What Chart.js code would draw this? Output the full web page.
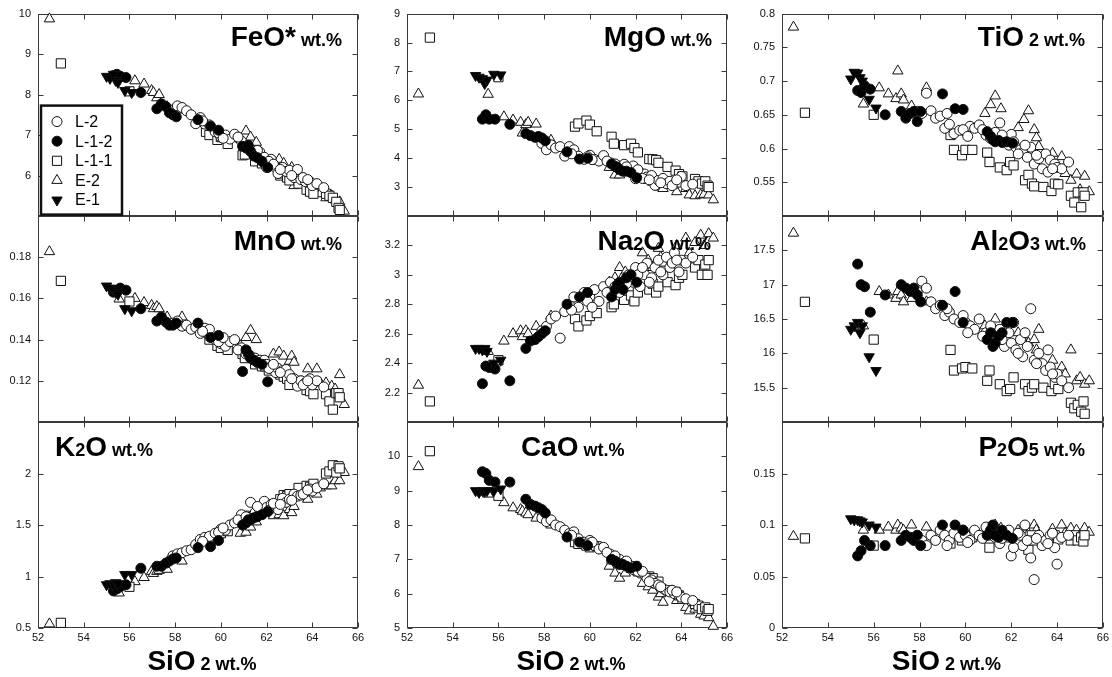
<!DOCTYPE html>
<html>
<head>
<meta charset="utf-8">
<script src="https://cdn.jsdelivr.net/npm/chart.js@4.4.0/dist/chart.umd.min.js"></script>
<style>
  html, body { margin: 0; padding: 0; background: #fff; }
  #wrap { position: relative; width: 1112px; height: 677px; overflow: hidden; }
  #wrap canvas { position: absolute; left: 0; top: 0; }
</style>
</head>
<body>
<div id="wrap"></div>
<script>
// ---------------- DATA ----------------
const SIO2_L2  = [57.9, 58.1, 58.3, 58.5, 58.7, 58.9, 59.1, 59.3, 59.5, 59.75, 60.0, 60.2, 60.4, 60.6, 60.9, 61.3, 61.5, 61.7, 61.9, 62.0, 62.2, 62.4, 62.5, 62.7, 62.85, 63.0, 63.2, 63.35, 63.5, 63.7, 63.9, 64.0, 64.2, 64.5,
                  59.2, 59.9, 60.1, 60.75, 61.1, 61.6, 62.1, 62.3, 62.6, 63.1, 63.6, 63.8];
const SIO2_L12 = [55.3, 55.45, 55.6, 55.85, 56.5, 57.2, 57.4, 57.6, 57.75, 57.9, 58.05, 59.0, 59.55, 59.9, 60.95, 61.1, 61.2, 61.3, 61.45, 61.6, 61.8, 62.05];
const SIO2_L11 = [53.0, 56.0, 59.35, 59.5, 59.85, 60.0, 60.3, 60.95, 61.05, 61.5, 61.8, 61.95, 62.1, 62.6, 62.75, 62.9, 63.0, 63.4, 63.75, 63.9, 64.05, 64.6, 64.75, 64.9, 65.05, 65.15, 65.2];
const SIO2_E2  = [52.5, 55.55, 56.24, 56.64, 56.97, 57.05, 57.2, 57.3, 57.65, 58.3, 60.85, 61.1, 61.3, 61.55, 62.3, 62.55, 62.75, 63.0, 63.1, 63.2, 63.8, 64.2, 64.35, 64.6, 64.85, 65.0, 65.2, 65.4];
const SIO2_E1  = [55.0, 55.15, 55.3, 55.4, 55.5, 55.8, 56.1];

const FEO = {
  L2:  [7.62, 7.72, 7.68, 7.6, 7.5, 7.28, 7.43, 7.27, 7.25, 7.08, 6.95, 7.0, 6.9, 7.02, 6.85, 6.6, 6.55, 6.58, 6.45, 6.2, 6.4, 6.2, 6.05, 6.2, 6.1, 6.13, 5.95, 6.15, 5.9, 5.85, 5.85, 5.75, 5.8, 5.7,
        7.35, 7.05, 6.92, 6.95, 6.7, 6.62, 6.35, 6.28, 6.15, 6.0, 5.95, 5.9],
  L12: [8.47, 8.5, 8.45, 8.42, 8.05, 7.65, 7.77, 7.7, 7.55, 7.5, 7.45, 7.38, 7.22, 7.12, 6.72, 6.68, 6.75, 6.6, 6.48, 6.44, 6.35, 6.2],
  L11: [8.77, 8.08, 7.08, 7.0, 6.88, 6.95, 6.78, 6.5, 6.52, 6.35, 6.3, 6.32, 6.25, 6.0, 6.05, 5.95, 5.88, 5.8, 5.65, 5.6, 5.55, 5.55, 5.5, 5.45, 5.35, 5.2, 5.15],
  E2:  [9.87, 8.4, 8.34, 8.26, 8.1, 8.05, 7.92, 8.0, 7.7, 7.62, 6.9, 7.1, 6.95, 6.82, 6.35, 6.4, 6.3, 5.98, 6.2, 5.75, 5.75, 5.75, 5.55, 5.45, 5.5, 5.4, 5.35, 5.12],
  E1:  [8.45, 8.4, 8.5, 8.35, 8.3, 8.1, 8.05]
};
const MGO = {
  L2:  [4.51, 4.29, 4.46, 4.35, 4.4, 4.07, 4.4, 4.29, 4.07, 3.96, 4.1, 3.96, 3.9, 4.09, 3.84, 3.73, 3.79, 3.65, 3.73, 3.29, 3.5, 3.45, 3.35, 3.4, 3.06, 3.23, 3.3, 3.12, 3.2, 3.1, 3.17, 3.37, 3.05, 3.1,
        4.15, 4.05, 3.95, 3.9, 3.8, 3.7, 3.6, 3.3, 3.25, 3.15, 3.05, 3.25],
  L12: [5.35, 5.5, 5.35, 5.35, 5.17, 4.85, 4.78, 4.72, 4.75, 4.7, 4.6, 4.22, 3.97, 4.0, 3.8, 3.72, 3.68, 3.6, 3.55, 3.55, 3.5, 3.32],
  L11: [8.17, 6.8, 5.09, 5.2, 5.3, 5.16, 4.93, 4.74, 4.5, 4.45, 4.5, 4.35, 4.2, 3.97, 3.96, 3.93, 3.84, 3.7, 3.57, 3.45, 3.37, 3.28, 3.2, 3.12, 3.2, 3.05, 3.0],
  E2:  [6.22, 6.21, 5.43, 5.32, 5.24, 4.87, 5.16, 5.24, 5.18, 4.62, 3.68, 3.42, 3.42, 3.5, 3.3, 3.23, 3.17, 3.05, 3.0, 2.95, 2.84, 2.95, 2.73, 2.7, 2.73, 2.75, 2.73, 2.56],
  E1:  [6.86, 6.8, 6.75, 6.58, 6.7, 6.9, 6.88]
};
const TIO2 = {
  L2:  [0.655, 0.652, 0.682, 0.656, 0.645, 0.648, 0.63, 0.636, 0.622, 0.627, 0.625, 0.633, 0.63, 0.635, 0.62, 0.624, 0.638, 0.611, 0.605, 0.621, 0.602, 0.598, 0.594, 0.587, 0.602, 0.577, 0.585, 0.57, 0.592, 0.583, 0.577, 0.572, 0.57, 0.58,
        0.652, 0.628, 0.618, 0.628, 0.615, 0.62, 0.61, 0.592, 0.605, 0.59, 0.565, 0.57],
  L12: [0.686, 0.683, 0.693, 0.688, 0.65, 0.655, 0.645, 0.652, 0.655, 0.64, 0.655, 0.681, 0.659, 0.658, 0.625, 0.618, 0.613, 0.61, 0.612, 0.609, 0.61, 0.608],
  L11: [0.653, 0.65, 0.62, 0.598, 0.59, 0.598, 0.598, 0.594, 0.58, 0.572, 0.568, 0.58, 0.575, 0.553, 0.561, 0.548, 0.544, 0.543, 0.537, 0.548, 0.547, 0.53, 0.52, 0.535, 0.513, 0.535, 0.53],
  E2:  [0.78, 0.666, 0.69, 0.681, 0.674, 0.715, 0.681, 0.672, 0.663, 0.69, 0.652, 0.665, 0.678, 0.659, 0.631, 0.643, 0.656, 0.628, 0.616, 0.603, 0.593, 0.588, 0.563, 0.553, 0.562, 0.539, 0.559, 0.536],
  E1:  [0.703, 0.713, 0.712, 0.705, 0.7, 0.673, 0.66]
};
const MNO = {
  L2:  [0.148, 0.149, 0.1465, 0.147, 0.145, 0.146, 0.143, 0.1455, 0.145, 0.14, 0.138, 0.1368, 0.139, 0.14, 0.136, 0.132, 0.131, 0.13, 0.13, 0.128, 0.127, 0.124, 0.126, 0.125, 0.1255, 0.123, 0.121, 0.1174, 0.12, 0.119, 0.121, 0.118, 0.12, 0.117,
        0.144, 0.139, 0.141, 0.135, 0.133, 0.129, 0.126, 0.128, 0.124, 0.121, 0.118, 0.12],
  L12: [0.163, 0.164, 0.165, 0.164, 0.155, 0.149, 0.151, 0.1485, 0.147, 0.147, 0.148, 0.148, 0.141, 0.142, 0.1245, 0.135, 0.133, 0.131, 0.13, 0.129, 0.128, 0.1195],
  L11: [0.1685, 0.1585, 0.1435, 0.14, 0.137, 0.136, 0.135, 0.133, 0.131, 0.128, 0.127, 0.127, 0.125, 0.123, 0.122, 0.121, 0.118, 0.12, 0.1155, 0.115, 0.1135, 0.1135, 0.11, 0.106, 0.114, 0.114, 0.112],
  E2:  [0.1827, 0.1597, 0.16, 0.158, 0.1566, 0.155, 0.156, 0.155, 0.151, 0.151, 0.137, 0.141, 0.1445, 0.14, 0.133, 0.134, 0.132, 0.1295, 0.132, 0.129, 0.1258, 0.1258, 0.119, 0.119, 0.1174, 0.116, 0.123, 0.1085],
  E1:  [0.166, 0.165, 0.164, 0.163, 0.162, 0.155, 0.154]
};
const NA2O = {
  L2:  [2.62, 2.65, 2.7, 2.72, 2.57, 2.75, 2.8, 2.85, 2.78, 2.88, 2.85, 2.9, 2.82, 2.92, 2.95, 2.88, 2.98, 3.0, 2.95, 3.05, 2.92, 3.0, 3.08, 2.98, 3.05, 3.1, 3.0, 3.12, 3.05, 3.15, 3.02, 3.1, 3.08, 3.12,
        2.76, 2.82, 2.78, 2.88, 2.92, 2.94, 3.0, 3.05, 2.95, 3.02, 3.08, 3.1],
  L12: [2.26, 2.38, 2.37, 2.36, 2.28, 2.5, 2.55, 2.56, 2.58, 2.6, 2.62, 2.8, 2.85, 2.88, 2.85, 2.9, 2.93, 2.95, 2.9, 2.98, 3.0, 2.95],
  L11: [2.14, 2.42, 2.7, 2.65, 2.69, 2.72, 2.74, 2.78, 2.8, 2.83, 2.86, 2.82, 2.88, 2.9, 2.94, 2.88, 2.92, 2.95, 2.93, 2.98, 3.0, 3.05, 3.1, 3.0, 3.07, 3.0, 3.1],
  E2:  [2.25, 2.48, 2.55, 2.6, 2.62, 2.58, 2.62, 2.6, 2.65, 2.72, 2.95, 2.98, 3.05, 3.02, 3.15, 3.1, 3.05, 3.18, 3.12, 3.08, 3.2, 3.25, 3.15, 3.22, 3.27, 3.2, 3.28, 3.25],
  E1:  [2.5, 2.5, 2.49, 2.5, 2.48, 2.4, 2.42]
};
const AL2O3 = {
  L2:  [16.9, 17.05, 16.95, 16.75, 16.65, 16.7, 16.55, 16.6, 16.5, 16.45, 16.45, 16.4, 16.35, 16.5, 16.3, 16.2, 16.35, 16.1, 16.3, 16.15, 16.05, 16.2, 15.95, 16.1, 16.65, 15.9, 16.0, 15.85, 15.75, 15.8, 15.65, 15.7, 15.6, 15.5,
        16.65, 16.55, 16.3, 16.25, 16.4, 16.2, 16.45, 16.0, 16.3, 15.85, 16.05, 15.7],
  L12: [17.3, 17.0, 16.97, 16.6, 16.85, 17.0, 16.95, 16.9, 16.95, 16.85, 16.75, 16.7, 16.9, 16.45, 16.2, 16.3, 16.1, 16.15, 16.25, 16.3, 16.45, 16.45],
  L11: [16.75, 16.2, 16.05, 15.75, 15.78, 15.8, 15.78, 15.6, 15.75, 15.55, 15.45, 15.48, 15.65, 15.55, 15.45, 15.5, 15.55, 15.5, 15.45, 15.55, 15.48, 15.28, 15.2, 15.25, 15.15, 15.3, 15.12],
  E2:  [17.75, 16.4, 16.9, 16.85, 16.8, 16.9, 16.85, 16.75, 16.8, 16.75, 16.4, 16.35, 16.5, 16.3, 16.3, 16.25, 16.15, 16.2, 16.05, 16.35, 15.9, 15.8, 15.7, 16.05, 15.6, 15.65, 15.55, 15.6],
  E1:  [16.35, 16.4, 16.45, 16.3, 16.4, 15.95, 15.75]
};
const K2O = {
  L2:  [1.2, 1.22, 1.23, 1.25, 1.26, 1.31, 1.36, 1.38, 1.39, 1.42, 1.46, 1.45, 1.5, 1.52, 1.6, 1.72, 1.62, 1.65, 1.73, 1.67, 1.7, 1.68, 1.65, 1.76, 1.72, 1.75, 1.8, 1.78, 1.79, 1.82, 1.85, 1.83, 1.86, 1.9,
        1.34, 1.43, 1.47, 1.55, 1.58, 1.68, 1.64, 1.71, 1.7, 1.74, 1.8, 1.84],
  L12: [0.86, 0.88, 0.9, 0.92, 1.08, 1.1, 1.1, 1.13, 1.15, 1.17, 1.18, 1.28, 1.29, 1.35, 1.5, 1.52, 1.55, 1.55, 1.57, 1.58, 1.6, 1.63],
  L11: [0.55, 0.9, 1.36, 1.38, 1.4, 1.42, 1.44, 1.55, 1.59, 1.6, 1.64, 1.7, 1.68, 1.75, 1.79, 1.78, 1.8, 1.86, 1.88, 1.87, 1.9, 2.0, 2.02, 2.08, 2.01, 2.07, 2.05],
  E2:  [0.54, 0.84, 0.95, 0.99, 1.05, 1.03, 1.05, 1.06, 1.07, 1.15, 1.42, 1.43, 1.48, 1.53, 1.59, 1.6, 1.59, 1.65, 1.62, 1.68, 1.75, 1.8, 1.86, 1.88, 1.88, 1.93, 1.93, 2.01],
  E1:  [0.92, 0.93, 0.92, 0.94, 0.93, 1.02, 1.02]
};
const CAO = {
  L2:  [8.2, 8.1, 8.15, 8.0, 7.95, 7.85, 7.75, 7.8, 7.6, 7.5, 7.55, 7.4, 7.3, 7.35, 7.15, 7.0, 6.9, 6.85, 6.7, 6.75, 6.6, 6.55, 6.45, 6.4, 6.3, 6.25, 6.15, 6.1, 6.05, 6.0, 5.95, 5.9, 5.85, 5.8,
        7.7, 7.45, 7.5, 7.2, 7.1, 6.95, 6.65, 6.65, 6.35, 6.2, 6.1, 6.05],
  L12: [9.55, 9.5, 9.3, 9.25, 9.25, 8.75, 8.6, 8.55, 8.5, 8.45, 8.35, 7.65, 7.5, 7.4, 7.0, 6.95, 6.9, 6.85, 6.85, 6.8, 6.75, 6.8],
  L11: [10.15, 8.85, 7.5, 7.45, 7.4, 7.35, 7.38, 7.0, 7.05, 6.85, 6.75, 6.8, 6.65, 6.5, 6.45, 6.3, 6.35, 6.1, 6.05, 5.95, 5.85, 5.7, 5.65, 5.55, 5.6, 5.5, 5.55],
  E2:  [9.7, 8.9, 8.65, 8.5, 8.45, 8.4, 8.35, 8.3, 8.2, 8.0, 6.8, 6.6, 6.45, 6.6, 6.3, 6.2, 6.1, 5.9, 6.0, 5.75, 5.8, 5.6, 5.5, 5.55, 5.4, 5.35, 5.3, 5.05],
  E1:  [9.0, 8.95, 9.0, 8.98, 9.0, 9.0, 9.05]
};
const P2O5 = {
  L2:  [0.09, 0.085, 0.08, 0.09, 0.085, 0.095, 0.09, 0.085, 0.092, 0.088, 0.09, 0.085, 0.095, 0.09, 0.098, 0.088, 0.082, 0.09, 0.095, 0.07, 0.085, 0.09, 0.08, 0.085, 0.068, 0.047, 0.09, 0.08, 0.085, 0.09, 0.078, 0.062, 0.088, 0.09,
        0.08, 0.095, 0.083, 0.087, 0.093, 0.087, 0.078, 0.092, 0.1, 0.087, 0.082, 0.092],
  L12: [0.07, 0.075, 0.085, 0.08, 0.08, 0.085, 0.09, 0.088, 0.085, 0.09, 0.08, 0.1, 0.1, 0.095, 0.09, 0.095, 0.1, 0.09, 0.088, 0.095, 0.09, 0.087],
  L11: [0.087, 0.08, 0.082, 0.09, 0.085, 0.09, 0.088, 0.09, 0.078, 0.085, 0.092, 0.088, 0.09, 0.084, 0.076, 0.09, 0.085, 0.083, 0.088, 0.09, 0.086, 0.085, 0.09, 0.085, 0.088, 0.084, 0.09],
  E2:  [0.089, 0.095, 0.095, 0.098, 0.095, 0.1, 0.097, 0.095, 0.1, 0.098, 0.093, 0.095, 0.1, 0.097, 0.095, 0.098, 0.092, 0.1, 0.095, 0.09, 0.096, 0.1, 0.092, 0.097, 0.095, 0.09, 0.097, 0.093],
  E1:  [0.106, 0.105, 0.105, 0.104, 0.103, 0.1, 0.098]
};

const X_MIN = 52, X_MAX = 66, X_STEP = 2;
const X_TITLE = [['SiO', 28], [' 2 wt.%', 18]];

// ---------------- SERIES STYLES ----------------
const SERIES = [
  { key: 'E1',  name: 'E-1',   x: SIO2_E1,  style: 'triangle', rot: 180, r: 6,   fill: '#000' },
  { key: 'L12', name: 'L-1-2', x: SIO2_L12, style: 'circle',   rot: 0,   r: 5,   fill: '#000' },
  { key: 'L2',  name: 'L-2',   x: SIO2_L2,  style: 'circle',   rot: 0,   r: 5,   fill: '#fff' },
  { key: 'L11', name: 'L-1-1', x: SIO2_L11, style: 'rect',     rot: 0,   r: 6.5, fill: '#fff' },
  { key: 'E2',  name: 'E-2',   x: SIO2_E2,  style: 'triangle', rot: 0,   r: 6,   fill: '#fff' }
];
const LEGEND_ORDER = ['L2', 'L12', 'L11', 'E2', 'E1'];

// ---------------- PANELS ----------------
const COLS = [[38, 358], [407, 727], [782, 1103]];
const ROWS = [[11, 216], [216, 422], [422, 628]];

const PANELS = [
  { data: FEO,   min: 5,   max: 10,  step: 1,    row: 0, col: 0, title: [['FeO*', 28], [' wt.%', 18]], align: 'right', off: 16, legend: true },
  { data: MGO,   min: 2,   max: 9,   step: 1,    row: 0, col: 1, title: [['MgO', 28], [' wt.%', 18]], align: 'right', off: 15 },
  { data: TIO2,  min: 0.5, max: 0.8, step: 0.05, row: 0, col: 2, title: [['TiO', 28], [' 2 wt.%', 18]], align: 'right', off: 18 },
  { data: MNO,   min: 0.1, max: 0.2, step: 0.02, row: 1, col: 0, title: [['MnO', 28], [' wt.%', 18]], align: 'right', off: 16 },
  { data: NA2O,  min: 2.0, max: 3.4, step: 0.2,  row: 1, col: 1, title: [['Na', 28], ['2', 18], ['O', 28], [' wt.%', 18]], align: 'right', off: 16 },
  { data: AL2O3, min: 15,  max: 18,  step: 0.5,  row: 1, col: 2, title: [['Al', 28], ['2', 18], ['O', 28], ['3', 18], [' wt.%', 18]], align: 'right', off: 17 },
  { data: K2O,   min: 0.5, max: 2.5, step: 0.5,  row: 2, col: 0, title: [['K', 28], ['2', 18], ['O', 28], [' wt.%', 18]], align: 'left', off: 17 },
  { data: CAO,   min: 5,   max: 11,  step: 1,    row: 2, col: 1, title: [['CaO', 28], [' wt.%', 18]], align: 'left', off: 114 },
  { data: P2O5,  min: 0,   max: 0.2, step: 0.05, row: 2, col: 2, title: [['P', 28], ['2', 18], ['O', 28], ['5', 18], [' wt.%', 18]], align: 'right', off: 18 }
];

const FAMILY = '"Liberation Sans", Arial, Helvetica, sans-serif';
const fmt = v => String(parseFloat(Number(v).toFixed(4)));
const near = (a, b) => Math.abs(a - b) < 1e-9;

function drawRuns(ctx, runs, x, y, align) {
  const widths = runs.map(([t, s]) => { ctx.font = `bold ${s}px ${FAMILY}`; return ctx.measureText(t).width; });
  const total = widths.reduce((a, b) => a + b, 0);
  let cx = align === 'right' ? x - total : (align === 'center' ? x - total / 2 : x);
  ctx.textBaseline = 'alphabetic';
  ctx.textAlign = 'left';
  runs.forEach(([t, s], i) => {
    ctx.font = `bold ${s}px ${FAMILY}`;
    ctx.fillText(t, cx, y);
    cx += widths[i];
  });
}

const framePlugin = {
  id: 'frame',
  beforeDatasetsDraw(chart) {
    const { ctx, chartArea: a, scales: { x, y } } = chart;
    ctx.save();
    ctx.strokeStyle = '#3a3a3a';
    ctx.lineWidth = 1;
    const L = Math.round(a.left) + 0.5, R = Math.round(a.right) - 0.5;
    const T = Math.round(a.top) + 0.5, B = Math.round(a.bottom) - 0.5;
    ctx.strokeRect(L, T, R - L, B - T);
    ctx.beginPath();
    x.ticks.forEach(t => {
      const px = Math.round(x.getPixelForValue(t.value)) + 0.5;
      ctx.moveTo(px, T); ctx.lineTo(px, T + 5);
      ctx.moveTo(px, B); ctx.lineTo(px, B - 5);
    });
    y.ticks.forEach(t => {
      const py = Math.round(y.getPixelForValue(t.value)) + 0.5;
      ctx.moveTo(L, py); ctx.lineTo(L + 5, py);
      ctx.moveTo(R, py); ctx.lineTo(R - 5, py);
    });
    ctx.stroke();
    ctx.restore();
  }
};

const textPlugin = {
  id: 'panelText',
  afterDraw(chart, args, opts) {
    const { ctx, chartArea: a } = chart;
    const p = opts.panel;
    ctx.save();
    ctx.fillStyle = '#000';
    const by = a.top + (p.row === 0 ? 32 : 34);
    if (p.align === 'right') drawRuns(ctx, p.title, a.right - p.off, by, 'right');
    else drawRuns(ctx, p.title, a.left + p.off, by, 'left');
    if (p.row === 2) drawRuns(ctx, X_TITLE, (a.left + a.right) / 2 + 4, 670, 'center');
    if (p.legend) {
      const bx = a.left + 3, byy = a.top + 92, bw = 81, bh = 109;
      ctx.fillStyle = '#fff';
      ctx.fillRect(bx, byy, bw, bh);
      ctx.strokeStyle = '#111';
      ctx.lineWidth = 2.5;
      ctx.strokeRect(bx, byy, bw, bh);
      ctx.font = `16px ${FAMILY}`;
      ctx.textBaseline = 'middle';
      ctx.textAlign = 'left';
      LEGEND_ORDER.forEach((k, i) => {
        const s = SERIES.find(q => q.key === k);
        const cy = a.top + 108 + i * 19.6;
        ctx.fillStyle = s.fill;
        ctx.strokeStyle = '#111';
        ctx.lineWidth = 1;
        Chart.helpers.drawPoint(ctx, { pointStyle: s.style, rotation: s.rot, radius: s.r, borderWidth: 1 }, a.left + 19, cy);
        ctx.fillStyle = '#000';
        ctx.fillText(s.name, a.left + 37, cy + 1);
      });
    }
    ctx.restore();
  }
};

const wrap = document.getElementById('wrap');
PANELS.forEach(p => {
  const cv = document.createElement('canvas');
  cv.width = 1112; cv.height = 677;
  wrap.appendChild(cv);
  const col = COLS[p.col], row = ROWS[p.row];
  const bottomRow = p.row === 2;
  const XH = bottomRow ? 20 : 0;
  const YW = 40;
  const hideMin = p.row !== 2;   // top & middle rows hide the bottom label
  const hideMax = p.row !== 0;   // middle & bottom rows hide the top label
  new Chart(cv, {
    type: 'scatter',
    data: {
      datasets: SERIES.map(s => ({
        label: s.name,
        data: s.x.map((xv, i) => ({ x: xv, y: p.data[s.key][i] })),
        pointStyle: s.style,
        pointRotation: s.rot,
        pointRadius: s.r,
        pointHoverRadius: s.r,
        pointBackgroundColor: s.fill,
        pointBorderColor: '#111',
        pointBorderWidth: 1,
        clip: false
      }))
    },
    options: {
      responsive: false,
      animation: false,
      devicePixelRatio: 1,
      events: [],
      layout: { padding: { left: col[0] - YW, right: 1112 - col[1], top: row[0], bottom: 677 - row[1] - XH } },
      plugins: {
        legend: { display: false },
        tooltip: { enabled: false },
        panelText: { panel: p }
      },
      scales: {
        x: {
          type: 'linear', min: X_MIN, max: X_MAX,
          grid: { display: false, drawTicks: false },
          border: { display: false },
          ticks: { stepSize: X_STEP, display: bottomRow, autoSkip: false, maxRotation: 0, padding: 3,
                   color: '#111', font: { family: FAMILY, size: 11 }, callback: v => fmt(v) },
          afterFit: s => { s.height = XH; }
        },
        y: {
          type: 'linear', min: p.min, max: p.max,
          grid: { display: false, drawTicks: false },
          border: { display: false },
          ticks: { stepSize: p.step, autoSkip: false, padding: 7, color: '#111', font: { family: FAMILY, size: 11 },
                   callback: v => ((hideMin && near(v, p.min)) || (hideMax && near(v, p.max))) ? '' : fmt(v) },
          afterFit: s => { s.width = YW; }
        }
      }
    },
    plugins: [framePlugin, textPlugin]
  });
});
</script>
</body>
</html>
